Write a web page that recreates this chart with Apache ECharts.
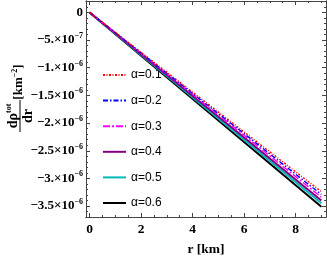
<!DOCTYPE html>
<html><head><meta charset="utf-8">
<script src="https://cdn.jsdelivr.net/npm/echarts@6/dist/echarts.min.js"></script>
<style>html,body{margin:0;padding:0;background:#fff}#c{width:327px;height:262px}</style>
</head><body><div id="c"></div>
<script>
// ---- data ----
const r = [0, 3, 6, 9];
const alphaNames = ['α=0.1', 'α=0.2', 'α=0.3', 'α=0.4', 'α=0.5', 'α=0.6'];
const a01 = [0, -1.08e-6, -2.16e-6, -3.24e-6];
const a02 = [0, -1.10e-6, -2.19e-6, -3.29e-6];
const a03 = [0, -1.11e-6, -2.22e-6, -3.34e-6];
const a04 = [0, -1.13e-6, -2.26e-6, -3.40e-6];
const a05 = [0, -1.15e-6, -2.30e-6, -3.45e-6];
const a06 = [0, -1.17e-6, -2.34e-6, -3.51e-6];
const xTicks = [0, 2, 4, 6, 8];
const xMinor = [0.5,1,1.5,2.5,3,3.5,4.5,5,5.5,6.5,7,7.5,8.5,9];
const yTicks = [0, -5e-7, -1e-6, -1.5e-6, -2e-6, -2.5e-6, -3e-6, -3.5e-6];
const yTickLabels = ['{m|0}', '{m|−5.×10}{s|−7}', '{m|−1.×10}{s|−6}', '{m|−1.5×10}{s|−6}',
  '{m|−2.×10}{s|−6}', '{m|−2.5×10}{s|−6}', '{m|−3.×10}{s|−6}', '{m|−3.5×10}{s|−6}'];
const yMinor = [];
for (let k = 1; k <= 36; k++) { if (k % 5) yMinor.push(-k * 1e-7); }
yMinor.push(1e-7, 2e-7);

const seriesVals = [a01, a02, a03, a04, a05, a06];
const colors = ['#ff0000', '#0000ff', '#ff00ff', '#800080', '#00bbbb', '#000000'];
const dashes = [[2, 1.5, 1, 1.5], [5, 2, 1.5, 2], [7, 2, 2, 2], 'solid', 'solid', 'solid'];
const widths = [1.4, 1.4, 1.4, 2, 2, 2];

const serif = 'Liberation Serif';
const frame = '#444';
const xMin = -0.136, xMax = 9.18, yMin = -3.697e-6, yMax = 0.206e-6;

function xAxisDef(pos, ticks, len, labels) {
  return {
    type: 'value', position: pos, min: xMin, max: xMax,
    axisLine: { show: true, onZero: false, lineStyle: { color: frame, width: 1 } },
    axisTick: { show: true, inside: true, length: len, customValues: ticks, lineStyle: { color: frame } },
    axisLabel: labels ? { show: true, customValues: xTicks, margin: 6, fontFamily: serif, fontWeight: 'bold', fontSize: 13.5, color: '#000' } : { show: false },
    splitLine: { show: false },
    name: labels ? 'r [km]' : '', nameLocation: 'middle', nameGap: 26,
    nameTextStyle: { fontFamily: serif, fontWeight: 'bold', fontSize: 13.5, color: '#000' }
  };
}
function yAxisDef(pos, ticks, len, labels) {
  return {
    type: 'value', position: pos, min: yMin, max: yMax,
    axisLine: { show: true, onZero: false, lineStyle: { color: frame, width: 1 } },
    axisTick: { show: true, inside: true, length: len, customValues: ticks, lineStyle: { color: frame } },
    axisLabel: labels ? {
      show: true, customValues: yTicks, margin: 3,
      formatter: function (v) {
        for (let i = 0; i < yTicks.length; i++) if (Math.abs(yTicks[i] - v) < 1e-12) return yTickLabels[i];
        return '';
      },
      rich: {
        m: { fontFamily: serif, fontWeight: 'bold', fontSize: 13, color: '#000' },
        s: { fontFamily: serif, fontWeight: 'bold', fontSize: 8, color: '#000', verticalAlign: 'top', padding: [0, 0, 8, 0] }
      }
    } : { show: false },
    splitLine: { show: false }
  };
}

const series = seriesVals.map((vals, i) => ({
  name: alphaNames[i], type: 'line', xAxisIndex: 0, yAxisIndex: 0,
  data: r.map((x, j) => [x, vals[j]]),
  symbol: 'none', smooth: false, z: 10 - i,
  lineStyle: { color: colors[i], width: widths[i], type: dashes[i] },
  itemStyle: { color: colors[i] }
}));

const chart = echarts.init(document.getElementById('c'), null, { renderer: 'canvas' });
chart.setOption({
  animation: false,
  backgroundColor: '#fff',
  grid: { left: 86, right: 1, top: 1, bottom: 43, containLabel: false },
  xAxis: [xAxisDef('bottom', xTicks, 4, true), xAxisDef('bottom', xMinor, 2, false),
          xAxisDef('top', xTicks, 4, false), xAxisDef('top', xMinor, 2, false)],
  yAxis: [yAxisDef('left', yTicks, 4, true), yAxisDef('left', yMinor, 2, false),
          yAxisDef('right', yTicks, 4, false), yAxisDef('right', yMinor, 2, false)],
  legend: {
    show: true, orient: 'vertical', left: 97, top: 64, itemWidth: 23, itemHeight: 10,
    itemGap: 13.6, data: alphaNames,
    itemStyle: { opacity: 0 },
    textStyle: { fontFamily: 'Liberation Sans', fontSize: 12, color: '#000', padding: [0, 0, 0, 0] }
  },
  graphic: [{
    type: 'group', x: 20, y: 116, rotation: Math.PI / 2,
    children: [
      { type: 'text', x: 0, y: -7, style: { text: '{a|dρ}{s|tot}', align: 'center', verticalAlign: 'middle',
          rich: { a: { fontFamily: serif, fontWeight: 'bold', fontSize: 14, fill: '#000' },
                  s: { fontFamily: serif, fontWeight: 'bold', fontSize: 8, fill: '#000', verticalAlign: 'top', padding: [0, 0, 8, 0] } } } },
      { type: 'line', shape: { x1: -16, y1: 0, x2: 16, y2: 0 }, style: { stroke: '#000', lineWidth: 1 } },
      { type: 'text', x: 0, y: 8, style: { text: 'dr', align: 'center', verticalAlign: 'middle',
          fontFamily: serif, fontWeight: 'bold', fontSize: 14, fill: '#000' } },
      { type: 'text', x: 34, y: -1, style: { text: '[km{s|−2}]', align: 'center', verticalAlign: 'middle',
          fontFamily: serif, fontWeight: 'bold', fontSize: 13, fill: '#000',
          rich: { s: { fontFamily: serif, fontWeight: 'bold', fontSize: 8, fill: '#000', verticalAlign: 'top', padding: [0, 0, 8, 0] } } } }
    ]
  }],
  series: series
});
</script></body></html>
